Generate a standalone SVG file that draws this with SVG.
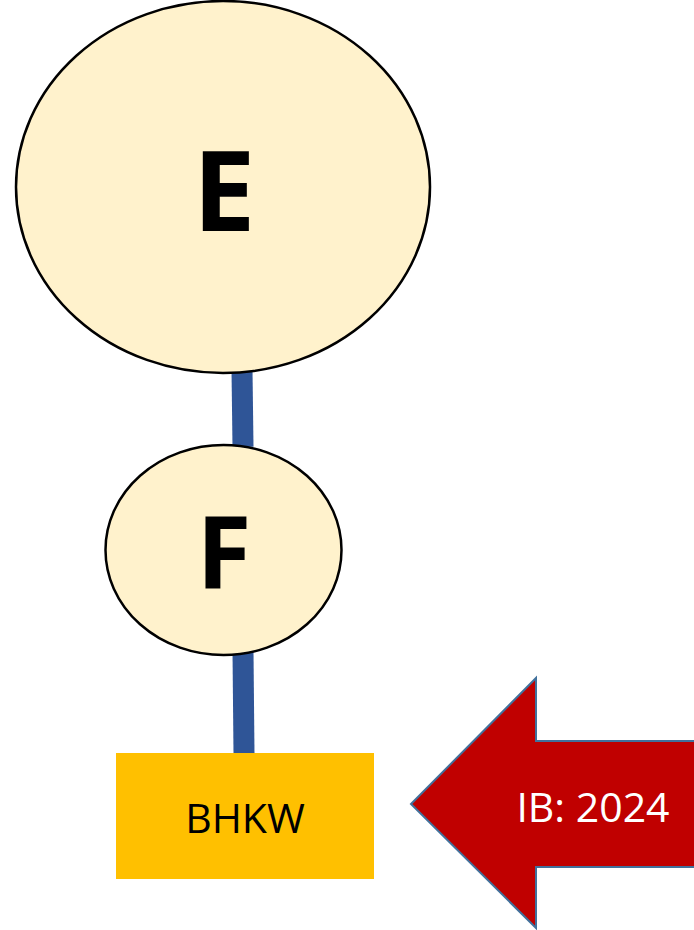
<svg xmlns="http://www.w3.org/2000/svg" width="694" height="930" viewBox="0 0 694 930">
<style>
.node{fill:#FFF2CC;stroke:#000;stroke-width:2.5}
.big{font-family:"Open Sans","Liberation Sans",sans-serif;font-weight:bold;text-anchor:middle;fill:#000}
.lbl{font-family:"Open Sans","Liberation Sans",sans-serif;text-anchor:middle}
.conn{stroke:#2F5597;stroke-width:21;fill:none}
</style>
<g id="connectors">
<line class="conn" x1="242" y1="370" x2="243" y2="447"/>
<line class="conn" x1="243" y1="652" x2="244" y2="754"/>
</g>
<g id="node-E">
<ellipse class="node" cx="223" cy="187" rx="207" ry="186"/>
<text class="big" x="224" y="231" font-size="112">E</text>
</g>
<g id="node-F">
<ellipse class="node" cx="223.5" cy="550" rx="118" ry="105"/>
<text class="big" x="224" y="588" font-size="100">F</text>
</g>
<g id="node-BHKW">
<rect x="116" y="753" width="258" height="126" fill="#FFC000"/>
<text class="lbl" x="245" y="833" font-size="41" fill="#000">BHKW</text>
</g>
<g id="arrow-IB">
<polygon points="411,804 536,678 536,741 696,741 696,867 536,867 536,928" fill="#C00000" stroke="#41719C" stroke-width="2"/>
<text class="lbl" x="593" y="822" font-size="41" fill="#fff">IB: 2024</text>
</g>
</svg>
